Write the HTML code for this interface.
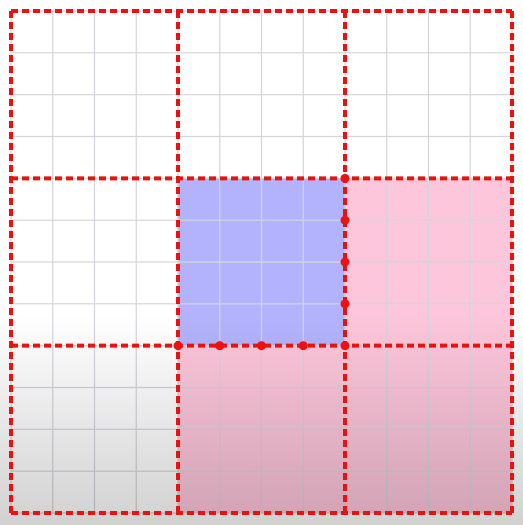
<!DOCTYPE html>
<html><head><meta charset="utf-8"><style>html,body{margin:0;padding:0;background:#fff}svg{display:block}</style></head>
<body>
<svg width="523" height="525" viewBox="0 0 523 525">
<defs>
<linearGradient id="fade" x1="0" y1="0" x2="0" y2="1">
<stop offset="0" stop-color="#000" stop-opacity="0"/>
<stop offset="0.6" stop-color="#000" stop-opacity="0"/>
<stop offset="1" stop-color="#000" stop-opacity="0.18"/>
</linearGradient>
</defs>
<rect width="523" height="525" fill="#fff"/>
<g id="fills"></g>
<g id="fine"></g>
<rect width="523" height="525" fill="url(#fade)"/>
<g id="major"></g>
<g id="dots"></g>
</svg>
<script>
const gridN = 12;
const blueCells = [[1,1]];
const pinkCells = [[2,1],[1,2],[2,2]];
const dotPts = [[8,4],[8,5],[8,6],[8,7],[8,8],[4,8],[5,8],[6,8],[7,8]];
const x0=11,x1=512,y0=11,y1=513;
const sx=i=>x0+(x1-x0)*i/gridN, sy=i=>y0+(y1-y0)*i/gridN;
const NS='http://www.w3.org/2000/svg';
function mk(t,a,p){const e=document.createElementNS(NS,t);for(const k in a)e.setAttribute(k,a[k]);document.getElementById(p).appendChild(e);return e;}
blueCells.forEach(c=>{const e=mk('rect',{x:sx(c[0]*4),y:sy(c[1]*4),width:sx(4)-sx(0),height:sy(4)-sy(0),fill:'#b3b3fd'},'fills');

});
pinkCells.forEach(c=>{const e=mk('rect',{x:sx(c[0]*4),y:sy(c[1]*4),width:sx(4)-sx(0),height:sy(4)-sy(0),fill:'#fdc6da'},'fills');

});
for(let i=0;i<=gridN;i++){
 const a=mk('line',{x1:sx(i),y1:y0,x2:sx(i),y2:y1,stroke:'#d4d4dc','stroke-width':1.2},'fine');
 
 
 const b=mk('line',{x1:x0,y1:sy(i),x2:x1,y2:sy(i),stroke:'#d4d4dc','stroke-width':1.2},'fine');
 
 
}
for(let i=0;i<=gridN;i+=4){
 const a=mk('line',{x1:sx(i),y1:y0,x2:sx(i),y2:y1,stroke:'#e8120e','stroke-width':4,'stroke-dasharray':'7 4'},'major');
 
 
 const b=mk('line',{x1:x0,y1:sy(i),x2:x1,y2:sy(i),stroke:'#e8120e','stroke-width':4,'stroke-dasharray':'7 4'},'major');
 
 
}
dotPts.forEach(p=>{const e=mk('circle',{cx:sx(p[0]),cy:sy(p[1]),r:4.5,fill:'#f01010'},'dots');

});
</script>
</body></html>
